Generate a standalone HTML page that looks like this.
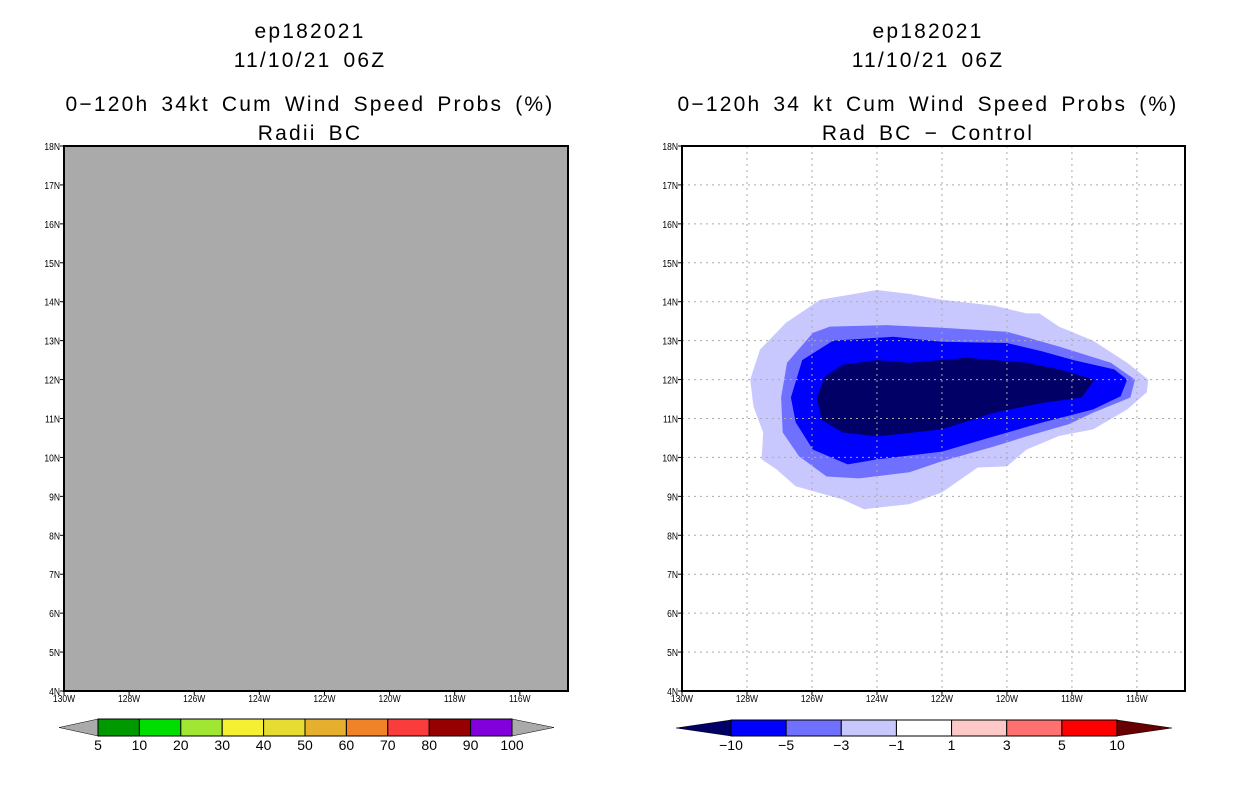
<!DOCTYPE html>
<html><head><meta charset="utf-8">
<style>
body{margin:0;background:#fff;width:1236px;height:800px;overflow:hidden;font-family:"Liberation Sans",sans-serif;}
svg text{font-family:"Liberation Sans",sans-serif;}
</style></head>
<body>
<svg id="fig" width="1236" height="800" xmlns="http://www.w3.org/2000/svg">
<g id="left"></g>
<g id="right"></g>
</svg>
<script>
const lonTicks=[-130,-128,-126,-124,-122,-120,-118,-116];
const latTicks=[4,5,6,7,8,9,10,11,12,13,14,15,16,17,18];
const leftBarLabels=["5","10","20","30","40","50","60","70","80","90","100"];
const leftBarColors=["#009900","#00dd00","#a0e632","#f5f032","#e6dc32","#e6af2d","#f08228","#fa3c3c","#960000","#8200dc"];
const rightBarLabels=["\u221210","\u22125","\u22123","\u22121","1","3","5","10"];
const rightBarColors=["#0000ff","#7070ff","#c8c8ff","#ffffff","#ffc8c8","#ff7070","#ff0000"];
const levelNames=["light","medium","bright","navy"];
const levelColors=["#c8c8ff","#7070ff","#0000ff","#000066"];
const lightLon=[-127.9,-127.6,-126.8,-125.75,-125.05,-124.0,-123.0,-122.0,-120.4,-119.4,-119.0,-118.4,-117.35,-116.3,-115.65,-115.7,-116.3,-117.35,-118.4,-119.4,-120.0,-120.9,-122.0,-123.0,-124.4,-125.05,-126.5,-127.1,-127.55,-127.5,-127.8];
const lightLat=[12,12.77,13.46,14.05,14.15,14.3,14.2,14.05,13.9,13.7,13.7,13.36,13.0,12.43,12.0,11.67,11.23,10.72,10.55,10.2,9.77,9.74,9.1,8.8,8.67,8.92,9.26,9.7,9.95,10.64,11.3];
const mediumLon=[-126.95,-126.77,-125.97,-125.45,-123.7,-122.0,-120.0,-118.4,-116.8,-116.06,-116.2,-117.35,-118.1,-119.4,-120.4,-122.0,-123.0,-124.55,-125.55,-126.4,-126.9];
const mediumLat=[11.54,12.43,13.2,13.36,13.4,13.33,13.23,12.85,12.43,12.0,11.54,11.15,10.85,10.54,10.28,9.9,9.62,9.46,9.51,10.03,10.64];
const brightLon=[-126.65,-126.3,-125.35,-123.5,-122.0,-120.0,-118.9,-117.95,-116.7,-116.3,-116.5,-117.35,-118.9,-120.4,-122.0,-124.0,-124.9,-125.97,-126.5];
const brightLat=[11.54,12.5,13.0,13.1,12.97,12.94,12.72,12.5,12.26,12.0,11.57,11.23,10.9,10.54,10.15,9.95,9.82,10.2,10.9];
const navyLon=[-125.85,-125.6,-125.05,-124.0,-123.0,-121.25,-119.4,-118.4,-117.3,-117.7,-118.9,-120.4,-122.0,-124.0,-125.05,-125.7];
const navyLat=[11.54,12.08,12.38,12.5,12.43,12.56,12.43,12.26,12.0,11.54,11.4,11.15,10.72,10.54,10.64,10.97];

const NS="http://www.w3.org/2000/svg";
function mk(tag,attrs,parent){const e=document.createElementNS(NS,tag);for(const k in attrs)e.setAttribute(k,attrs[k]);parent.appendChild(e);return e;}
const LON0=-130,LON1=-114.52,LAT0=4,LAT1=18,Y0=146,Y1=691;
function xs(x0,x1){return lon=>x0+(lon-LON0)/(LON1-LON0)*(x1-x0);}
function ys(lat){return Y1-(lat-LAT0)/(LAT1-LAT0)*(Y1-Y0);}
function title(g,cx,lines){
  lines.forEach((t,i)=>{const e=mk('text',{x:cx,y:[38,67,111,140][i],'text-anchor':'middle','font-size':'21',fill:'#000','letter-spacing':'2.2','word-spacing':'4'},g);e.textContent=t;
  
  });
}
function axes(g,x0,x1,grid){
  const X=xs(x0,x1);
  if(grid){
    lonTicks.slice(1).forEach(l=>{const e=mk('line',{x1:X(l),x2:X(l),y1:Y0,y2:Y1,stroke:'#aaa','stroke-dasharray':'2,4'},g);
    
    });
    latTicks.slice(1,-1).forEach(l=>{const e=mk('line',{x1:x0,x2:x1,y1:ys(l),y2:ys(l),stroke:'#aaa','stroke-dasharray':'2,4'},g);
    
    });
  }
  const r=mk('rect',{x:x0,y:Y0,width:x1-x0,height:Y1-Y0,fill:'none',stroke:'#000','stroke-width':2},g);
  
  
  lonTicks.forEach(l=>{mk('line',{x1:X(l),x2:X(l),y1:Y1,y2:Y1+4,stroke:'#000'},g);
    const t=mk('text',{x:X(l),y:Y1+11,'text-anchor':'middle','font-size':'10',transform:`translate(${X(l)},0) scale(0.85,1) translate(${-X(l)},0)`},g);t.textContent=(-l)+'W';
    
    });
  latTicks.forEach(l=>{mk('line',{x1:x0-4,x2:x0,y1:ys(l),y2:ys(l),stroke:'#000'},g);
    const t=mk('text',{x:x0-4,y:ys(l)+4,'text-anchor':'end','font-size':'10',transform:`translate(${x0-4},0) scale(0.85,1) translate(${-(x0-4)},0)`},g);t.textContent=l+'N';
    
    });
}
function colorbar(g,tl,bx0,bx1,tr,y0,y1,colors,labels,lc,rc){
  const ym=(y0+y1)/2,w=(bx1-bx0)/colors.length;
  const a=mk('polygon',{points:`${tl},${ym} ${bx0},${y0} ${bx0},${y1}`,fill:lc,stroke:'#000','stroke-width':0.5},g);
  
  
  const b=mk('polygon',{points:`${tr},${ym} ${bx1},${y0} ${bx1},${y1}`,fill:rc,stroke:'#000','stroke-width':0.5},g);
  
  
  colors.forEach((c,i)=>{const r=mk('rect',{x:bx0+i*w,y:y0,width:w,height:y1-y0,fill:c,stroke:'#000','stroke-width':1},g);
    
    });
  labels.forEach((s,i)=>{const t=mk('text',{x:bx0+i*w,y:y1+14,'text-anchor':'middle','font-size':'14'},g);t.textContent=s;
    
    });
}
// left
const L=document.getElementById('left');
title(L,310,["ep182021","11/10/21 06Z","0\u2212120h 34kt Cum Wind Speed Probs (%)","Radii BC"]);
const bg=mk('rect',{x:64,y:Y0,width:504,height:Y1-Y0,fill:'#aaaaaa'},L);


axes(L,64,568,false);
colorbar(L,59,98,512,554,719,736,leftBarColors,leftBarLabels,'#aaaaaa','#aaaaaa');
// right
const R=document.getElementById('right');
title(R,928,["ep182021","11/10/21 06Z","0\u2212120h 34 kt Cum Wind Speed Probs (%)","Rad BC \u2212 Control"]);
const XR=xs(682,1185);
const polys=[[lightLon,lightLat],[mediumLon,mediumLat],[brightLon,brightLat],[navyLon,navyLat]];
polys.forEach((p,i)=>{const pts=p[0].map((lo,j)=>XR(lo).toFixed(1)+','+ys(p[1][j]).toFixed(1)).join(' ');
  const e=mk('polygon',{points:pts,fill:levelColors[i]},R);
  
  });
axes(R,682,1185,true);
colorbar(R,676,731,1117,1172,720,736,rightBarColors,rightBarLabels,'#000066','#660000');
</script>
</body></html>
